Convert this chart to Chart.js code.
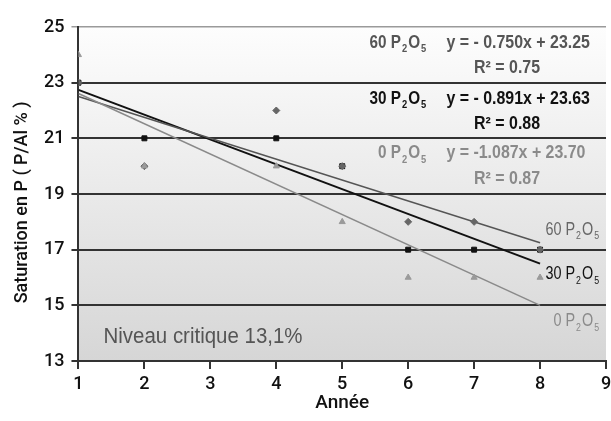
<!DOCTYPE html>
<html lang="fr">
<head>
<meta charset="utf-8">
<script src="https://cdn.jsdelivr.net/npm/chart.js@4"></script>
<style>
  html, body { margin:0; padding:0; background:#fff; }
  #wrap { width:611px; height:421px; position:relative; }
</style>
</head>
<body>
<div id="wrap"><canvas id="satChart"></canvas></div>
<script>
// ── Saturation en P : données ──
const annees = [1, 2, 4, 5, 6, 7, 8];
const sat60 = [23, 20, 22, 20, 18, 18, 17];
const sat30 = [23, 21, 21, 20, 17, 17, 17];
const sat0  = [24, 20, 20, 18, 16, 16, 16];

// droites de tendance (extrémités lues)
const trendX  = [1, 8];
const trend60 = [22.50, 17.25];
const trend30 = [22.74, 16.50];
const trend0  = [22.61, 15.00];

const xTicks = [1, 2, 3, 4, 5, 6, 7, 8, 9];
const yTicks = [13, 15, 17, 19, 21, 23, 25];

const FONT = "'Liberation Sans', 'Roboto', sans-serif";
const TICK_FONT = "'Roboto', 'Liberation Sans', sans-serif";

const toPts = (xs, ys) => xs.map((x, i) => ({ x, y: ys[i] }));

// fond dégradé de la zone de tracé
const bgPlugin = {
  id: 'bg',
  beforeDraw(chart) {
    const { ctx, chartArea: a } = chart;
    const g = ctx.createLinearGradient(0, a.top, 0, a.bottom);
    g.addColorStop(0, '#fdfdfd');
    g.addColorStop(1, '#d6d6d6');
    ctx.save();
    ctx.fillStyle = g;
    ctx.fillRect(a.left, a.top, a.right - a.left, a.bottom - a.top);
    ctx.restore();
  }
};

// texte étroit : échelle horizontale réduite
function narrowText(ctx, text, x, y, font, color, align, sq) {
  ctx.save();
  ctx.font = font;
  ctx.fillStyle = color;
  ctx.textAlign = align || 'left';
  ctx.textBaseline = 'middle';
  ctx.translate(x, y);
  ctx.scale(sq, 1);
  ctx.fillText(text, 0, 0);
  ctx.restore();
}
function narrowWidth(ctx, text, font, sq) {
  ctx.font = font;
  return ctx.measureText(text).width * sq;
}

// "60 P2O5" avec indices, aligné à droite sur xRight
function drawChem(ctx, pre, xRight, y, size, color, bold, sq) {
  const big = `${bold ? 'bold ' : ''}${size}px ${FONT}`;
  const small = `${bold ? 'bold ' : ''}${Math.round(size * 0.6)}px ${FONT}`;
  const parts = [[pre + 'P', big, 0], ['2', small, 0.35], ['O', big, 0], ['5', small, 0.35]];
  const total = parts.reduce((s, p) => s + narrowWidth(ctx, p[0], p[1], sq) + 1, 0);
  let x = xRight - total;
  parts.forEach(p => {
    narrowText(ctx, p[0], x, y + size * p[2], p[1], color, 'left', sq);
    x += narrowWidth(ctx, p[0], p[1], sq) + 1;
  });
}

const labels = [
  { pre: '60 ', eq: 'y = - 0.750x + 23.25', r2: 'R² = 0.75', color: '#555', yv: 24.43, yr: 23.54 },
  { pre: '30 ', eq: 'y = - 0.891x + 23.63', r2: 'R² = 0.88', color: '#111', yv: 22.43, yr: 21.50 },
  { pre: '0 ',  eq: 'y = -1.087x + 23.70',  r2: 'R² = 0.87', color: '#8a8a8a', yv: 20.46, yr: 19.55 },
];

const textPlugin = {
  id: 'texts',
  afterDatasetsDraw(chart) {
    const { ctx } = chart;
    const xs = chart.scales.x, ys = chart.scales.y;
    labels.forEach(l => {
      const f = `bold 18px ${FONT}`;
      drawChem(ctx, l.pre, xs.getPixelForValue(6.29), ys.getPixelForValue(l.yv), 18, l.color, true, 0.85);
      narrowText(ctx, l.eq, xs.getPixelForValue(6.58), ys.getPixelForValue(l.yv), f, l.color, 'left', 0.885);
      narrowText(ctx, l.r2, xs.getPixelForValue(7.5), ys.getPixelForValue(l.yr), f, l.color, 'center', 0.885);
    });
    // étiquettes en bout de droite
    const rx = xs.getPixelForValue(8.91);
    drawChem(ctx, '60 ', rx, ys.getPixelForValue(17.71), 18, '#666', false, 0.8);
    drawChem(ctx, '30 ', rx, ys.getPixelForValue(16.11), 18, '#111', false, 0.8);
    drawChem(ctx, '0 ',  rx, ys.getPixelForValue(14.43), 18, '#8a8a8a', false, 0.8);
    // niveau critique
    narrowText(ctx, 'Niveau critique 13,1%', xs.getPixelForValue(1.38), ys.getPixelForValue(13.86), `22px ${FONT}`, '#555', 'left', 0.93);
    // titre de l'axe vertical
    ctx.save();
    ctx.translate(22, ys.getPixelForValue(18.7));
    ctx.rotate(-Math.PI / 2);
    ctx.font = `500 18px ${TICK_FONT}`;
    ctx.fillStyle = '#111';
    ctx.textAlign = 'center';
    ctx.textBaseline = 'middle';
    ctx.fillText('Saturation en P ( P/Al % )', 0, 0);
    ctx.restore();
  }
};

const pointSet = (data, style, color, r) => ({
  data: toPts(annees, data), showLine: false, pointStyle: style,
  pointRadius: r, backgroundColor: color, borderColor: color, borderWidth: 1, order: 1
});
const lineSet = (ys, color, w) => ({
  data: toPts(trendX, ys), showLine: true, pointRadius: 0,
  borderColor: color, borderWidth: w, fill: false, order: 2
});

new Chart(document.getElementById('satChart'), {
  type: 'scatter',
  data: {
    datasets: [
      lineSet(trend0, '#8a8a8a', 1.5),
      lineSet(trend60, '#555', 1.5),
      lineSet(trend30, '#111', 2),
      pointSet(sat0, 'triangle', '#9a9a9a', 3.5),
      pointSet(sat60, 'rectRot', '#666', 3.5),
      pointSet(sat30, 'rect', '#111', 3.5),
    ]
  },
  options: {
    responsive: true,
    maintainAspectRatio: false,
    animation: false,
    layout: { padding: { top: 27, right: 3, left: 37, bottom: 8 } },
    plugins: { legend: { display: false }, tooltip: { enabled: false } },
    scales: {
      x: {
        type: 'linear', min: 1, max: 9,
        afterBuildTicks: s => { s.ticks = xTicks.map(v => ({ value: v })); },
        // le « 9 » déborde à droite comme sur l'original
        afterFit: s => { s.paddingRight = 0; },
        ticks: { color: '#111', font: { family: TICK_FONT, size: 18, weight: '500', lineHeight: 1 }, padding: 6 },
        grid: { drawOnChartArea: false, drawTicks: true, tickLength: 8, color: '#333', lineWidth: 2 },
        border: { color: '#333', width: 2 },
        title: { display: true, text: 'Année', color: '#111', font: { family: TICK_FONT, size: 19, weight: '500', lineHeight: 1 }, padding: { top: -5, bottom: 0 } }
      },
      y: {
        min: 13, max: 25,
        afterBuildTicks: s => { s.ticks = yTicks.map(v => ({ value: v })); },
        ticks: { color: '#111', font: { family: TICK_FONT, size: 18, weight: '500' }, padding: 7 },
        grid: {
          color: c => c.tick && c.tick.value === 25 ? '#9a9a9a' : '#333',
          lineWidth: c => c.tick && c.tick.value === 25 ? 1.5 : 2,
          tickLength: 7
        },
        border: { color: '#333', width: 2 },
        title: { display: false }
      }
    }
  },
  plugins: [bgPlugin, textPlugin]
});
</script>
</body>
</html>
